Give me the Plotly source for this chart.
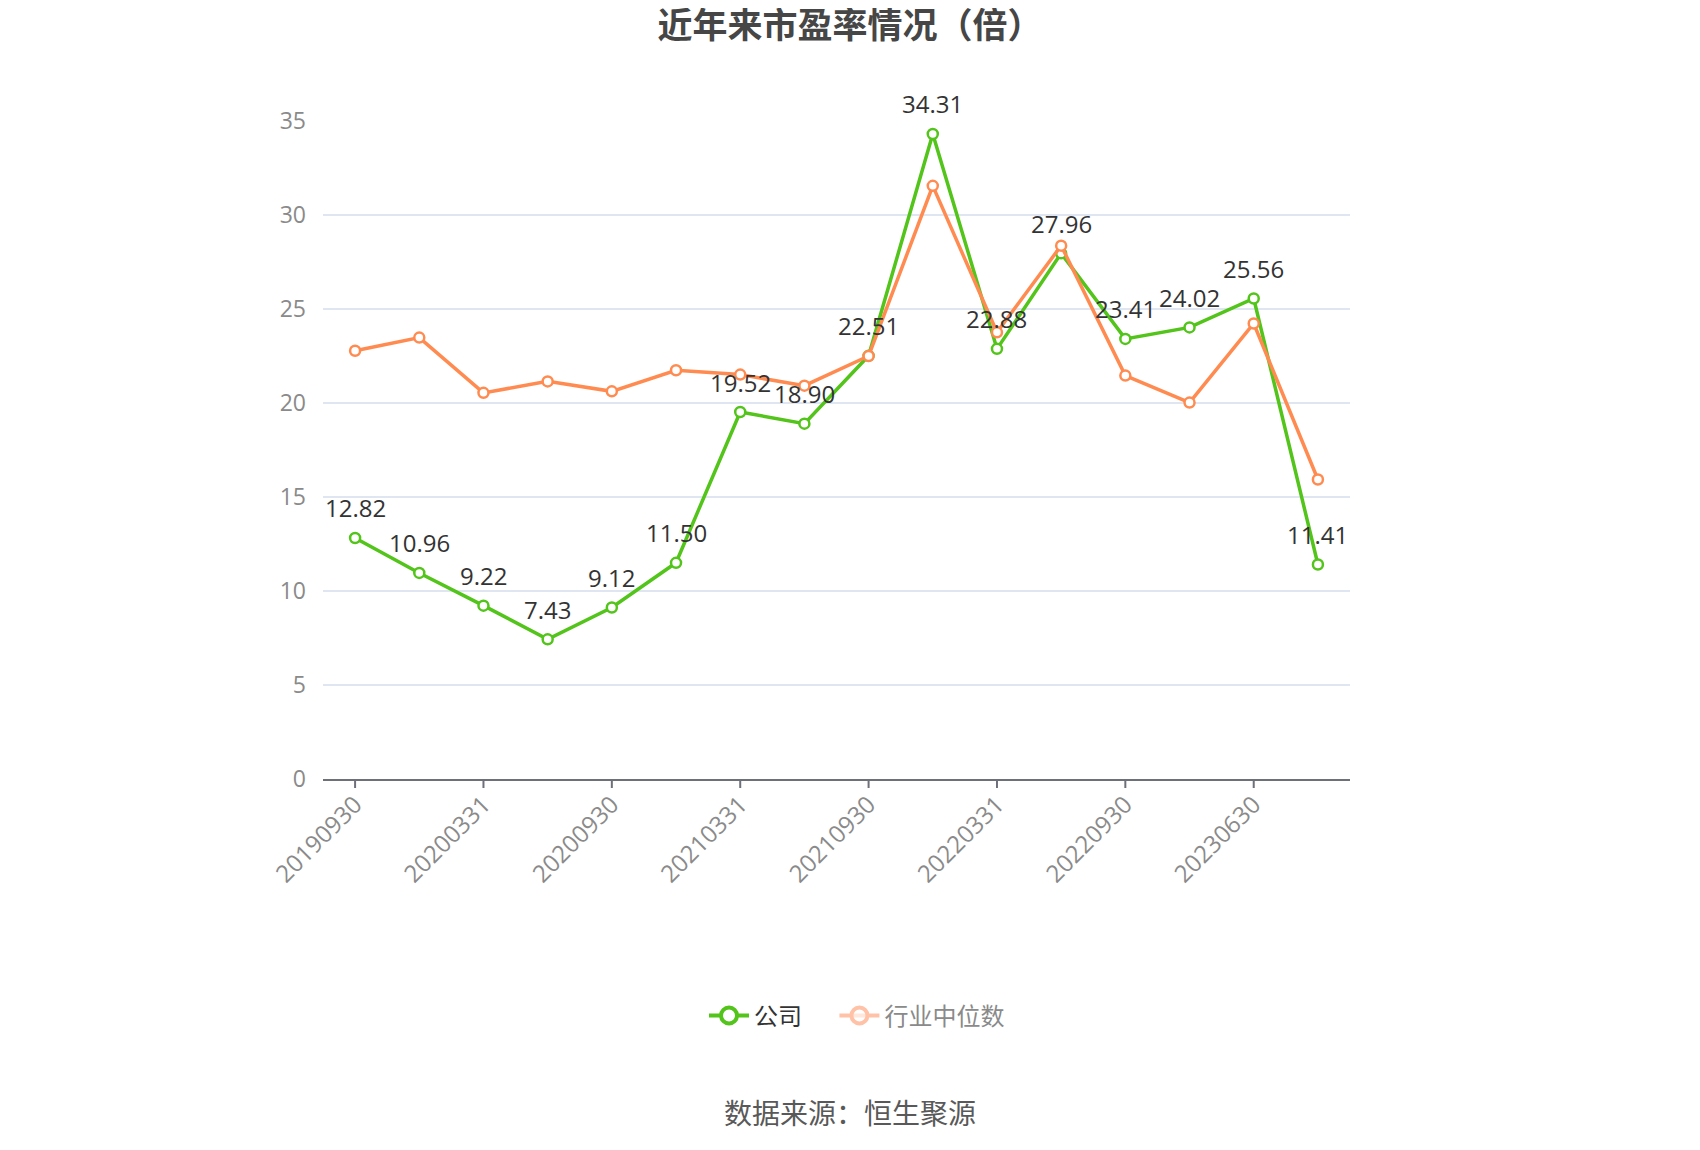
import plotly.graph_objects as go

# 报告期
periods = ["20190930", "20191231", "20200331", "20200630", "20200930", "20201231",
           "20210331", "20210630", "20210930", "20211231", "20220331", "20220630",
           "20220930", "20230331", "20230630", "20230930"]
# 公司市盈率
company_pe = [12.82, 10.96, 9.22, 7.43, 9.12, 11.50, 19.52, 18.90,
              22.51, 34.31, 22.88, 27.96, 23.41, 24.02, 25.56, 11.41]
# 行业中位数
industry_pe = [22.78, 23.48, 20.54, 21.15, 20.62, 21.74, 21.51, 20.92,
               22.50, 31.55, 23.76, 28.37, 21.46, 20.02, 24.23, 15.93]
tick_labels = ["20190930", "20200331", "20200930", "20210331",
               "20210930", "20220331", "20220930", "20230630"]
tick_vals = [0, 2, 4, 6, 8, 10, 12, 14]
y_ticks = [0, 5, 10, 15, 20, 25, 30, 35]

GREEN = "#52c41a"
ORANGE = "#ff8b50"
FONT = "Noto Sans CJK SC"
NUM_FONT = "Open Sans, Noto Sans CJK SC"

# 页面本身有 8px 边距，画布按此缩小
W, H = 1684, 1134

fig = go.Figure()
xs = list(range(len(periods)))

fig.add_trace(go.Scatter(
    x=xs, y=company_pe, mode="lines+markers", name="公司",
    line=dict(color=GREEN, width=3.5),
    marker=dict(symbol="circle", size=10, color="white", line=dict(color=GREEN, width=2.5)),
    showlegend=False, customdata=periods,
    hovertemplate="%{customdata}<br>公司: %{y:.2f}<extra></extra>",
))
fig.add_trace(go.Scatter(
    x=xs, y=industry_pe, mode="lines+markers", name="行业中位数",
    line=dict(color=ORANGE, width=3.5),
    marker=dict(symbol="circle", size=10, color="white", line=dict(color=ORANGE, width=2.5)),
    showlegend=False, customdata=periods,
    hovertemplate="%{customdata}<br>行业中位数: %{y:.2f}<extra></extra>",
))

# 图例（两个图例以便第二项显示为灰色）
fig.add_trace(go.Scatter(
    x=[None], y=[None], mode="lines+markers", name="公司", legend="legend",
    line=dict(color=GREEN, width=4),
    marker=dict(symbol="circle", size=16, color="white", line=dict(color=GREEN, width=4)),
))
fig.add_trace(go.Scatter(
    x=[None], y=[None], mode="lines+markers", name="行业中位数", legend="legend2",
    line=dict(color="#ffc2a6", width=4),
    marker=dict(symbol="circle", size=16, color="rgba(255,255,255,0.6)", line=dict(color="#ffc2a6", width=4)),
))

# 公司数值标签
annotations = [dict(
    x=i, y=v, xref="x", yref="y", text=f"{v:.2f}", showarrow=False,
    yshift=30, xanchor="center", yanchor="middle",
    font=dict(size=24, color="#333333", family=NUM_FONT),
) for i, v in zip(xs, company_pe)]

annotations.append(dict(
    text="数据来源：恒生聚源", x=(850 - 323) / 1027, y=(779 - 1112) / 658,
    xref="paper", yref="paper", showarrow=False, xanchor="center", yanchor="middle",
    font=dict(size=28, color="#595959", family=FONT),
))

# x 轴刻度线（标签贴近轴线，刻度线单独画）
tick_shapes = [dict(
    type="line", xref="x", yref="paper", x0=t, x1=t, y0=0, y1=-9 / 658,
    line=dict(color="#6e7079", width=2),
) for t in tick_vals]

fig.update_layout(
    width=W, height=H,
    margin=dict(l=315, r=W - 1342, t=113, b=H - 771),
    paper_bgcolor="white", plot_bgcolor="white",
    font=dict(family=FONT, color="#333333"),
    title=dict(text="<b>近年来市盈率情况（倍）</b>", x=(850 - 8) / W, xref="container", xanchor="center",
               y=1 - 18 / H, yref="container", yanchor="middle",
               font=dict(size=35, color="#464646", family=FONT)),
    xaxis=dict(
        range=[-0.5, len(periods) - 0.5], tickmode="array",
        tickvals=tick_vals, ticktext=tick_labels, tickangle=-45,
        showgrid=False, zeroline=False,
        showline=True, linecolor="#6e7079", linewidth=2,
        ticks="",
        tickfont=dict(size=24, color="#8a8a8a", family=NUM_FONT),
    ),
    yaxis=dict(
        range=[0, 35], tickmode="array", tickvals=y_ticks,
        showgrid=True, gridcolor="#e0e6f1", gridwidth=1.5,
        zeroline=False, showline=False, ticks="",
        ticklabelstandoff=16,
        tickfont=dict(size=23, color="#8a8a8a", family=NUM_FONT),
    ),
    legend=dict(orientation="h", x=0.371, xanchor="left", y=-0.36, yanchor="middle",
                font=dict(size=24, color="#333333", family=FONT), itemwidth=40),
    legend2=dict(orientation="h", x=0.498, xanchor="left", y=-0.36, yanchor="middle",
                 font=dict(size=24, color="#8a8a8a", family=FONT), itemwidth=40),
    annotations=annotations,
    shapes=tick_shapes,
    showlegend=True,
)

fig.write_html("out.html")
